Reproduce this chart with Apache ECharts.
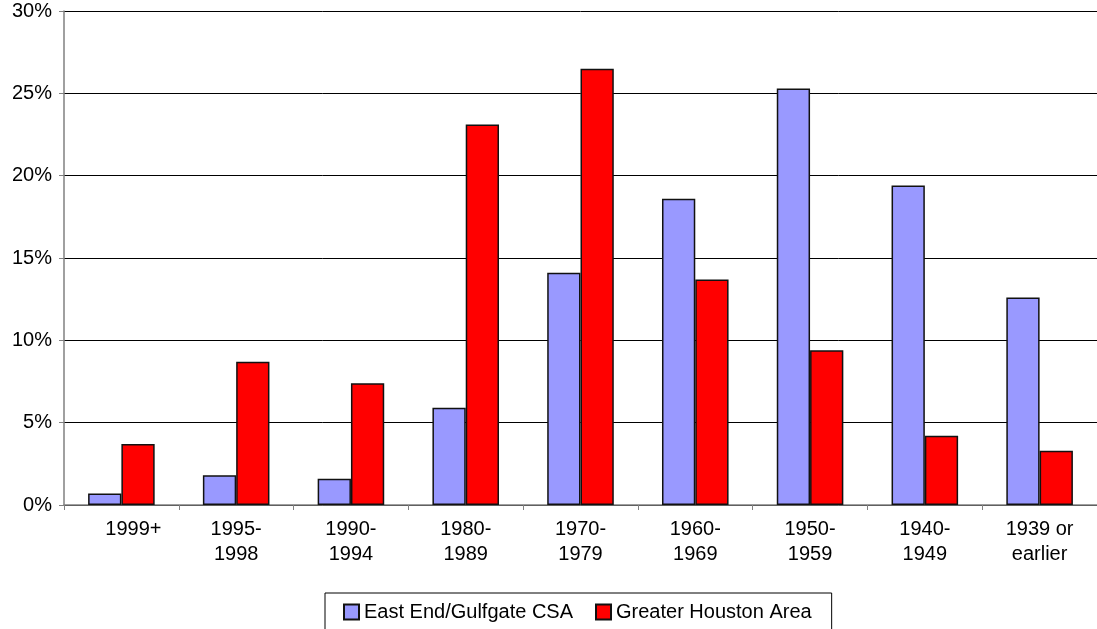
<!DOCTYPE html>
<html>
<head>
<meta charset="utf-8">
<script src="https://cdn.jsdelivr.net/npm/echarts@6/dist/echarts.min.js"></script>
<style>
html,body{margin:0;padding:0;background:#fff;}
#chart{width:1097px;height:629px;}
</style>
</head>
<body>
<div id="chart"></div>
<script>
const categories = ['1999+', '1995-\n1998', '1990-\n1994', '1980-\n1989', '1970-\n1979', '1960-\n1969', '1950-\n1959', '1940-\n1949', '1939 or\nearlier'];
const eastEnd = [0.7, 1.8, 1.6, 5.9, 14.1, 18.6, 25.3, 19.4, 12.6];
const houston = [3.7, 8.7, 7.4, 23.1, 26.5, 13.7, 9.4, 4.2, 3.3];
const seriesNames = ['East End/Gulfgate CSA', 'Greater Houston Area'];
const yTicks = [0, 5, 10, 15, 20, 25, 30];

const font = 'Liberation Sans, Arial, sans-serif';
const chart = echarts.init(document.getElementById('chart'), null, {renderer: 'canvas'});
const catData = categories.map((c, i) => i === 0 ? {value: c, textStyle: {padding: [0, 0, 0, 24]}} : c);
chart.setOption({
  animation: false,
  backgroundColor: '#fff',
  textStyle: {fontFamily: font},
  grid: {left: 64, top: 11, bottom: 124, right: -7, containLabel: false},
  legend: {
    left: 325, top: 593,
    padding: [9, 20, 20, 18],
    borderColor: '#000', borderWidth: 1,
    itemWidth: 15, itemHeight: 15, itemGap: 22,
    icon: 'rect',
    textStyle: {fontFamily: font, fontSize: 20, color: '#000'},
    data: seriesNames
  },
  xAxis: {
    type: 'category',
    data: catData,
    axisLine: {lineStyle: {color: '#808080', width: 1.5}},
    axisTick: {show: true, alignWithLabel: false, length: 5, lineStyle: {color: '#808080'}},
    axisLabel: {fontFamily: font, fontSize: 20, color: '#000', margin: 12, lineHeight: 25, interval: 0}
  },
  yAxis: {
    type: 'value',
    min: yTicks[0], max: yTicks[yTicks.length - 1], interval: 5,
    axisLine: {show: true, lineStyle: {color: '#808080', width: 1.5}},
    axisTick: {show: true, length: 5, lineStyle: {color: '#808080'}},
    axisLabel: {fontFamily: font, fontSize: 20, color: '#000', margin: 12, formatter: v => v + '%'},
    splitLine: {show: true, lineStyle: {color: '#000', width: 1}}
  },
  series: [
    {name: seriesNames[0], type: 'bar', data: eastEnd, barGap: '0%', barCategoryGap: '42%',
     itemStyle: {color: '#9999FF', borderColor: '#111', borderWidth: 1.5}},
    {name: seriesNames[1], type: 'bar', data: houston, barGap: '0%', barCategoryGap: '42%',
     itemStyle: {color: '#FF0000', borderColor: '#111', borderWidth: 1.5}}
  ]
});
</script>
</body>
</html>
